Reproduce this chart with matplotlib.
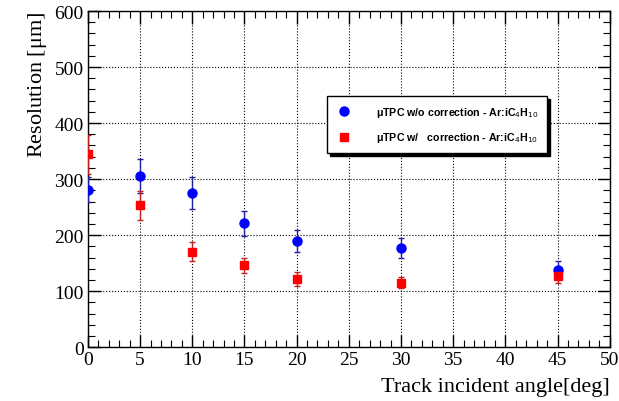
import matplotlib
matplotlib.use("Agg")
import matplotlib.pyplot as plt
from matplotlib.lines import Line2D
from matplotlib.ticker import MultipleLocator

angles = [0, 5, 10, 15, 20, 30, 45]

res_no_corr = [281, 306, 275, 221, 190, 177, 138]
err_no_corr = [22, 30, 28, 22, 20, 18, 15]

res_corr = [344, 253, 170, 146, 122, 115, 127]
err_corr = [35, 26, 17, 13, 12, 10, 12]

labels = [r"$\mathregular{\mu}$TPC w/o correction - Ar:iC$_4$H$_{10}$",
          r"$\mathregular{\mu}$TPC w/   correction - Ar:iC$_4$H$_{10}$"]

SERIF = ["Liberation Serif", "DejaVu Serif"]

fig = plt.figure(figsize=(6.19, 4.02), dpi=100)
ax = fig.add_axes([0.142, 0.134, 0.843, 0.836])

ax.errorbar(angles, res_no_corr, yerr=err_no_corr, fmt="o", color="#0000ff",
            ecolor="#2020a0", elinewidth=1.0, capsize=2, markersize=6.5,
            zorder=3)
ax.errorbar(angles, res_corr, yerr=err_corr, fmt="s", color="#ff0000",
            ecolor="#c02020", elinewidth=1.0, capsize=2, markersize=6,
            zorder=3)

ax.set_xlim(0, 50)
ax.set_ylim(0, 600)
ax.xaxis.set_major_locator(MultipleLocator(5))
ax.xaxis.set_minor_locator(MultipleLocator(1))
ax.yaxis.set_major_locator(MultipleLocator(100))
ax.yaxis.set_minor_locator(MultipleLocator(20))
ax.tick_params(which="both", direction="in", top=True, right=True)
ax.tick_params(which="major", length=9, width=1.0, labelsize=14, pad=3)
ax.tick_params(which="minor", length=5, width=0.8)
for lab in ax.get_xticklabels() + ax.get_yticklabels():
    lab.set_family(SERIF)

ax.grid(True, which="major", linestyle=":", color="black", linewidth=0.8)
for s in ax.spines.values():
    s.set_linewidth(1.0)

ax.set_xlabel("Track incident angle[deg]", family=SERIF, fontsize=16,
              loc="right", labelpad=6)
ax.set_ylabel(r"Resolution [$\mathregular{\mu}$m]", family=SERIF,
              fontsize=16, loc="top", labelpad=4)

handles = [
    Line2D([], [], marker="o", linestyle="none", color="#0000ff", markersize=6.5),
    Line2D([], [], marker="s", linestyle="none", color="#ff0000", markersize=6),
]
leg = ax.legend(handles, labels, loc="upper left", bbox_to_anchor=(0.458, 0.747),
                prop={"family": ["Liberation Sans", "DejaVu Sans"],
                      "weight": "bold", "size": 7.7},
                frameon=True, fancybox=False,
                shadow={"color": "black", "alpha": 1, "ox": 2, "oy": -2},
                edgecolor="black", borderpad=0.85, labelspacing=1.05,
                handlelength=1.5, handletextpad=2.2, borderaxespad=0,
                numpoints=1)
leg.get_frame().set_linewidth(1.0)

fig.savefig("out.png", dpi=100)
